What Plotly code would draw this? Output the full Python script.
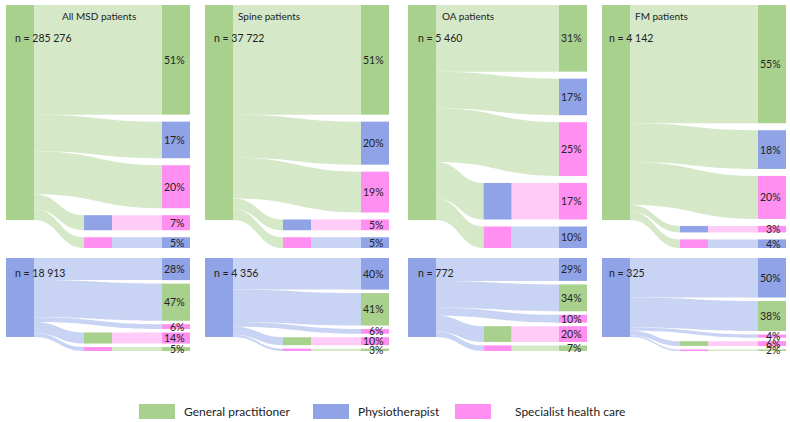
import plotly.graph_objects as go

FIG_W, FIG_H = 790, 422

# ---------------- data ----------------
legend_labels = ["General practitioner", "Physiotherapist", "Specialist health care"]
legend_keys = ["GP", "PT", "SHC"]

top_titles = ["All MSD patients", "Spine patients", "OA patients", "FM patients"]
top_n = ["285 276", "37 722", "5 460", "4 142"]
bottom_n = ["18 913", "4 356", "772", "325"]

# top row: first provider GP; pathways (middle provider, final provider)
top_source = "GP"
top_paths = [["GP"], ["PT"], ["SHC"], ["PT", "SHC"], ["SHC", "PT"]]
top_pct = [
    [51, 17, 20, 7, 5],
    [51, 20, 19, 5, 5],
    [31, 17, 25, 17, 10],
    [55, 18, 20, 3, 4],
]

# bottom row: first provider physiotherapist
bottom_source = "PT"
bottom_paths = [["PT"], ["GP"], ["SHC"], ["GP", "SHC"], ["SHC", "GP"]]
bottom_pct = [
    [28, 47, 6, 14, 5],
    [40, 41, 6, 10, 3],
    [29, 34, 10, 20, 7],
    [50, 38, 4, 6, 2],
]

# ---------------- style / layout ----------------
node_colors = {"GP": "#A9D18E", "PT": "#8FA3E6", "SHC": "#FF8FF0"}
link_colors = {"GP": "#D5E8C8", "PT": "#C9D3F3", "SHC": "#FFCCF8"}

FONT = "Lato"
THICK = 28
col_left = [6, 205, 408, 602]
col_right = [190, 389, 587, 786]
row_top = [5, 258]
row_bottom = [248, 351]
row_pad = [7, 3.5]
row_n_offset = [33, 15]
n_text_x = [13, 212, 416, 607]
title_x = [60, 236, 440, 633]
title_y = 16
legend_x = [139, 313, 455]
legend_y = [404, 419]

fig = go.Figure()
annotations = []
shapes = []


def px_to_paper_x(px):
    return px / FIG_W


def px_to_paper_y(py):
    return 1 - py / FIG_H


def add_panel(ci, ri, source, paths, pct, n_label):
    left, right = col_left[ci], col_right[ci]
    top, bottom = row_top[ri], row_bottom[ri]
    pad = row_pad[ri]
    W = right - left
    H = bottom - top
    ky = (H - (len(pct) - 1) * pad) / sum(pct)

    labels = [""]
    colors = [node_colors[source]]
    xs = [(THICK / 2) / W]
    ys = [(sum(pct) * ky / 2) / H]
    src, tgt, val, lcol = [], [], [], []

    # right-hand nodes
    y_cursor = 0.0
    right_idx = []
    centers = []
    for p, v in zip(paths, pct):
        h = v * ky
        idx = len(labels)
        labels.append("")
        colors.append(node_colors[p[-1]])
        xs.append(1 - (THICK / 2) / W)
        yc = (y_cursor + h / 2) / H
        ys.append(yc)
        right_idx.append(idx)
        centers.append(top + y_cursor + h / 2)
        y_cursor += h + pad

    # links (and middle nodes)
    for k, (p, v) in enumerate(zip(paths, pct)):
        if len(p) == 1:
            src.append(0); tgt.append(right_idx[k]); val.append(v)
            lcol.append(link_colors[source])
        else:
            mid = len(labels)
            labels.append("")
            colors.append(node_colors[p[0]])
            xs.append(0.5)
            ys.append(ys[right_idx[k]])
            src.append(0); tgt.append(mid); val.append(v)
            lcol.append(link_colors[source])
            src.append(mid); tgt.append(right_idx[k]); val.append(v)
            lcol.append(link_colors[p[-1]])

    fig.add_trace(go.Sankey(
        domain=dict(x=[px_to_paper_x(left), px_to_paper_x(right)],
                    y=[px_to_paper_y(bottom), px_to_paper_y(top)]),
        arrangement="fixed",
        hoverinfo="none",
        node=dict(label=labels, color=colors, x=xs, y=ys, pad=pad,
                  thickness=THICK, line=dict(width=0)),
        link=dict(source=src, target=tgt, value=val, color=lcol,
                  line=dict(width=0)),
        textfont=dict(size=1, color="rgba(0,0,0,0)"),
    ))

    for v, yc in zip(pct, centers):
        annotations.append(dict(
            x=px_to_paper_x(right - 3), y=px_to_paper_y(yc),
            xref="paper", yref="paper", xanchor="right", yanchor="middle",
            text=f"{v}%", showarrow=False,
            font=dict(family=FONT, size=10.5, color="#222222")))
    annotations.append(dict(
        x=px_to_paper_x(n_text_x[ci]), y=px_to_paper_y(top + row_n_offset[ri]),
        xref="paper", yref="paper", xanchor="left", yanchor="middle",
        text=f"n = {n_label}", showarrow=False,
        font=dict(family=FONT, size=10.5, color="#222222")))


for ci in range(4):
    add_panel(ci, 0, top_source, top_paths, top_pct[ci], top_n[ci])
    annotations.append(dict(
        x=px_to_paper_x(title_x[ci]), y=px_to_paper_y(title_y),
        xref="paper", yref="paper", xanchor="left", yanchor="middle",
        text=top_titles[ci], showarrow=False,
        font=dict(family=FONT, size=10, color="#222222")))
for ci in range(4):
    add_panel(ci, 1, bottom_source, bottom_paths, bottom_pct[ci], bottom_n[ci])

# legend
for lx, lab, key in zip(legend_x, legend_labels, legend_keys):
    shapes.append(dict(type="rect", xref="paper", yref="paper",
                       x0=px_to_paper_x(lx), x1=px_to_paper_x(lx + 36),
                       y0=px_to_paper_y(legend_y[1]), y1=px_to_paper_y(legend_y[0]),
                       fillcolor=node_colors[key], line=dict(width=0)))
    annotations.append(dict(
        x=px_to_paper_x(lx + 43 if key != "SHC" else lx + 58),
        y=px_to_paper_y((legend_y[0] + legend_y[1]) / 2),
        xref="paper", yref="paper", xanchor="left", yanchor="middle",
        text=lab, showarrow=False,
        font=dict(family=FONT, size=12, color="#222222")))

fig.update_layout(
    width=FIG_W, height=FIG_H,
    margin=dict(l=0, r=0, t=0, b=0),
    paper_bgcolor="white", plot_bgcolor="white",
    annotations=annotations, shapes=shapes,
    font=dict(family=FONT),
)

fig.write_html(
    "out.html",
    config={"displayModeBar": False},
    post_script="document.body.style.margin='0';document.body.style.padding='0';",
)
